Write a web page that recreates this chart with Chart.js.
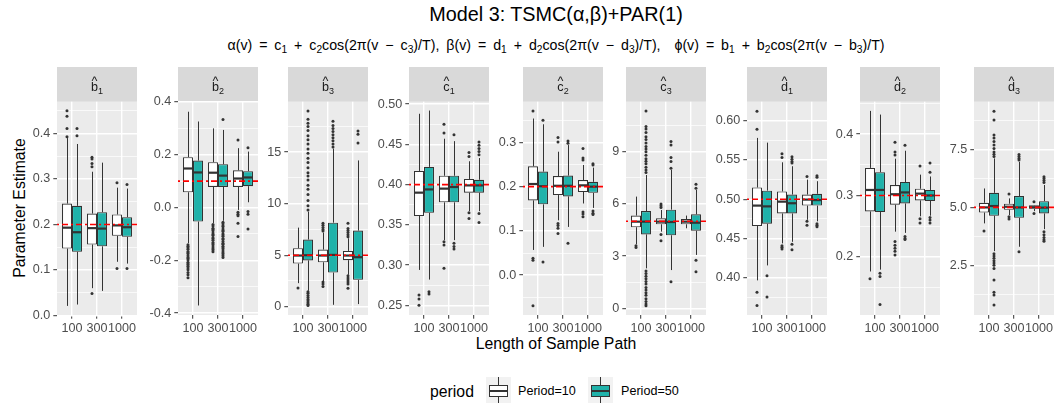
<!DOCTYPE html>
<html lang="en">
<head>
  <meta charset="UTF-8">
  <title>Model 3: TSMC(α,β)+PAR(1)</title>
  <style>
    body {
      margin: 0;
      background: #fff;
      font-family: "Liberation Sans", Arial, sans-serif;
    }
    #page {
      position: relative;
      width: 1058px;
      height: 405px;
      overflow: hidden;
    }
    #page canvas { position: absolute; }
    .txt {
      position: absolute;
      white-space: nowrap;
      line-height: 1;
      color: #000;
    }
    .title { left: 556px; top: 5px; font-size: 19.8px; transform: translateX(-50%); }
    .subtitle { left: 556px; top: 38px; font-size: 14.2px; word-spacing: 3px; transform: translateX(-50%); }
    .subtitle sub { font-size: 72%; vertical-align: -0.3em; line-height: 0; }
    .ytitle { left: 20px; top: 208px; font-size: 15.8px; transform: translate(-50%, -50%) rotate(-90deg); }
    .xtitle { left: 556px; top: 336px; font-size: 15.8px; transform: translateX(-50%); }
    .legtitle { left: 430px; top: 384px; font-size: 15.8px; }
    .leglab { top: 385px; font-size: 12.6px; }
    .key {
      position: absolute;
      top: 377px;
      width: 25px;
      height: 26px;
      background: #F2F2F2;
    }
    .key .wh { position: absolute; left: 12px; width: 1px; background: #333; }
    .key .bx {
      position: absolute;
      left: 3px;
      top: 8px;
      width: 17px;
      height: 10px;
      border: 1px solid #333;
    }
    .key .md { position: absolute; left: 3px; top: 13px; width: 19px; height: 2px; background: #333; }
  </style>
</head>
<body>
<div id="page">
  <div class="txt title">Model 3: TSMC(α,β)+PAR(1)</div>
  <div class="txt subtitle">α(v) = c<sub>1</sub> + c<sub>2</sub>cos(2π(v − c<sub>3</sub>)/T), β(v) = d<sub>1</sub> + d<sub>2</sub>cos(2π(v − d<sub>3</sub>)/T),&nbsp; ϕ(v) = b<sub>1</sub> + b<sub>2</sub>cos(2π(v − b<sub>3</sub>)/T)</div>
  <div class="txt ytitle">Parameter Estimate</div>
  <div class="txt xtitle">Length of Sample Path</div>

  <div class="txt legtitle">period</div>
  <div class="key" style="left:486px">
    <div class="wh" style="top:0;height:8px"></div>
    <div class="bx" style="background:#FFFFFF"></div>
    <div class="md"></div>
    <div class="wh" style="top:20px;height:6px"></div>
  </div>
  <div class="txt leglab" style="left:518px">Period=10</div>
  <div class="key" style="left:588px">
    <div class="wh" style="top:0;height:8px"></div>
    <div class="bx" style="background:#20B2AA"></div>
    <div class="md"></div>
    <div class="wh" style="top:20px;height:6px"></div>
  </div>
  <div class="txt leglab" style="left:621px">Period=50</div>
</div>

<script src="https://cdn.jsdelivr.net/npm/chart.js"></script>
<script>
  const lengths = ['100', '300', '1000'];
  const periods = ['Period=10', 'Period=50'];
  const periodColors = ['#FFFFFF', '#20B2AA'];

  // facet labels: letter + subscript, shown with a hat
  const params = [['b', '1'], ['b', '2'], ['b', '3'], ['c', '1'], ['c', '2'], ['c', '3'], ['d', '1'], ['d', '2'], ['d', '3']];
  const trueValues = [0.2, 0.1, 5, 0.4, 0.2, 5, 0.5, 0.3, 5];

  const yRanges = [
    [0.001, 0.470], [-0.407, 0.401], [-0.8, 19.9], [0.238, 0.503], [-0.090, 0.392],
    [-0.38, 11.87], [0.353, 0.624], [0.105, 0.453], [0.35, 9.57]
  ];
  const yTickValues = [
    [0, 0.1, 0.2, 0.3, 0.4], [-0.4, -0.2, 0, 0.2, 0.4], [0, 5, 10, 15],
    [0.25, 0.30, 0.35, 0.40, 0.45, 0.50], [0, 0.1, 0.2, 0.3], [0, 3, 6, 9],
    [0.40, 0.45, 0.50, 0.55, 0.60], [0.2, 0.3, 0.4], [2.5, 5.0, 7.5]
  ];
  const yTickLabels = [
    ['0.0', '0.1', '0.2', '0.3', '0.4'], ['-0.4', '-0.2', '0.0', '0.2', '0.4'], ['0', '5', '10', '15'],
    ['0.25', '0.30', '0.35', '0.40', '0.45', '0.50'], ['0.0', '0.1', '0.2', '0.3'], ['0', '3', '6', '9'],
    ['0.40', '0.45', '0.50', '0.55', '0.60'], ['0.2', '0.3', '0.4'], ['2.5', '5.0', '7.5']
  ];

  // box stats per length (100, 300, 1000): [lower whisker, Q1, median, Q3, upper whisker]
  const b1Box10 = [[0.021, 0.147, 0.193, 0.246, 0.390], [0.060, 0.156, 0.192, 0.224, 0.316], [0.118, 0.175, 0.198, 0.222, 0.281]];
  const b1Box50 = [[0.024, 0.140, 0.183, 0.241, 0.377], [0.054, 0.152, 0.191, 0.227, 0.336], [0.114, 0.173, 0.194, 0.216, 0.279]];
  const b2Box10 = [[-0.135, 0.058, 0.148, 0.191, 0.363], [-0.059, 0.078, 0.132, 0.172, 0.300], [-0.009, 0.078, 0.110, 0.141, 0.225]];
  const b2Box50 = [[-0.371, -0.053, 0.133, 0.178, 0.326], [-0.050, 0.078, 0.121, 0.164, 0.294], [0.020, 0.081, 0.114, 0.138, 0.212]];
  const b3Box10 = [[2.29, 4.19, 4.97, 5.68, 7.68], [2.45, 4.32, 4.97, 5.55, 7.20], [3.10, 4.52, 4.97, 5.42, 6.65]];
  const b3Box50 = [[1.55, 4.50, 5.00, 6.52, 9.23], [0.19, 3.32, 5.03, 8.16, 15.35], [0.26, 2.61, 4.81, 7.39, 14.2]];
  const c1Box10 = [[0.294, 0.361, 0.390, 0.417, 0.488], [0.331, 0.378, 0.395, 0.411, 0.457], [0.367, 0.390, 0.399, 0.407, 0.429]];
  const c1Box50 = [[0.282, 0.365, 0.394, 0.422, 0.492], [0.331, 0.378, 0.397, 0.411, 0.454], [0.367, 0.390, 0.399, 0.406, 0.433]];
  const c2Box10 = [[0.057, 0.169, 0.206, 0.246, 0.354], [0.124, 0.181, 0.202, 0.224, 0.279], [0.162, 0.188, 0.203, 0.215, 0.249]];
  const c2Box50 = [[0.064, 0.160, 0.201, 0.234, 0.341], [0.109, 0.178, 0.202, 0.225, 0.294], [0.152, 0.186, 0.200, 0.211, 0.243]];
  const c3Box10 = [[3.68, 4.66, 4.98, 5.33, 6.42], [4.41, 4.83, 4.98, 5.17, 5.65], [4.60, 4.83, 4.98, 5.13, 5.33]];
  const c3Box50 = [[2.30, 4.25, 4.98, 5.59, 7.66], [2.20, 4.20, 4.96, 5.67, 7.95], [3.07, 4.46, 4.92, 5.40, 6.80]];
  const d1Box10 = [[0.397, 0.466, 0.492, 0.515, 0.578], [0.444, 0.482, 0.497, 0.510, 0.547], [0.474, 0.492, 0.4996, 0.506, 0.525]];
  const d1Box50 = [[0.416, 0.469, 0.491, 0.511, 0.572], [0.446, 0.482, 0.495, 0.506, 0.542], [0.472, 0.492, 0.499, 0.507, 0.523]];
  const d2Box10 = [[0.176, 0.274, 0.309, 0.345, 0.438], [0.241, 0.285, 0.302, 0.317, 0.360], [0.266, 0.292, 0.303, 0.311, 0.334]];
  const d2Box50 = [[0.179, 0.273, 0.309, 0.338, 0.432], [0.239, 0.287, 0.305, 0.322, 0.373], [0.267, 0.291, 0.300, 0.309, 0.331]];
  const d3Box10 = [[4.31, 4.78, 5.00, 5.20, 5.82], [4.67, 4.90, 5.03, 5.16, 5.39], [4.84, 4.94, 5.01, 5.09, 5.10]];
  const d3Box50 = [[3.11, 4.64, 5.06, 5.63, 7.12], [3.30, 4.55, 5.00, 5.49, 6.97], [4.06, 4.74, 4.99, 5.27, 5.97]];

  // outliers per length (100, 300, 1000)
  const b1Out10 = [[0.450, 0.438, 0.411, 0.393], [0.348, 0.344, 0.334, 0.327, 0.048], [0.292, 0.103]];
  const b1Out50 = [[0.411, 0.395], [], [0.288, 0.103]];
  const b2Out10 = [
    [-0.141, -0.147, -0.152, -0.158, -0.166, -0.171, -0.175, -0.183, -0.189, -0.193, -0.199, -0.207, -0.213, -0.217, -0.222, -0.229, -0.236, -0.246, -0.255, -0.266],
    [-0.064, -0.070, -0.078, -0.083, -0.088, -0.096, -0.102, -0.106, -0.114, -0.118, -0.124, -0.132, -0.137, -0.142, -0.149, -0.156, -0.161, -0.167],
    [0.256, -0.018, -0.025, -0.031, -0.059, -0.110]
  ];
  const b2Out50 = [
    [],
    [0.334, -0.056, -0.061, -0.069, -0.073, -0.081, -0.087, -0.091, -0.099, -0.104, -0.109, -0.117, -0.121, -0.129, -0.135, -0.139, -0.147, -0.152, -0.157, -0.165, -0.171, -0.176, -0.183, -0.189],
    [0.227, -0.015, -0.025, -0.081]
  ];
  const b3Out10 = [[1.81], [8.1, 7.9, 7.7, 7.5, 7.35, 2.4, 2.2, 1.97], [8.1, 7.6, 7.4, 7.2, 7.0, 6.8, 3.0, 2.8, 2.6, 2.4, 2.2, 1.8]];
  const b3Out50 = [
    [9.4, 9.8, 10.3, 10.9, 11.4, 11.8, 12.3, 12.7, 13.0, 13.5, 14.0, 14.4, 14.9, 15.3, 15.8, 16.2, 16.6, 17.1, 17.5, 17.8, 18.2, 19.0,
     1.45, 1.3, 1.1, 0.9, 0.7, 0.55, 0.4, 0.25, 0.13],
    [15.5, 15.8, 16.1, 16.4, 16.7, 17.0, 17.3, 17.6, 18.0],
    [17.06, 16.74, 15.9]
  ];
  const c1Out10 = [[0.263, 0.258, 0.250], [0.475, 0.464, 0.329, 0.325, 0.296], [0.440, 0.435, 0.365, 0.358]];
  const c1Out50 = [[0.267, 0.264], [0.462, 0.327, 0.323, 0.320], [0.453, 0.449, 0.445, 0.441, 0.437, 0.364, 0.353]];
  const c2Out10 = [[0.371, 0.038, 0.034, -0.069], [0.311, 0.301, 0.117, 0.112, 0.106, 0.094], [0.286, 0.265, 0.260, 0.143, 0.138, 0.132]];
  const c2Out50 = [[0.350, 0.030], [0.303, 0.298, 0.072], [0.252, 0.249, 0.145, 0.140, 0.137]];
  const c3Out10 = [[3.60, 3.49], [6.0, 5.9, 5.8, 4.25, 3.89], []];
  const c3Out50 = [
    [7.8, 7.95, 8.1, 8.3, 8.45, 8.6, 8.8, 9.0, 9.15, 9.3, 9.5, 9.7, 9.85, 10.1, 10.3, 10.45, 11.34,
     2.15, 2.0, 1.85, 1.7, 1.55, 1.4, 1.2, 1.05, 0.9, 0.75, 0.55, 0.4, 0.25, 0.15],
    [9.58, 9.39, 8.66, 8.43, 8.05, 1.53],
    [7.13, 6.9, 2.76, 2.11]
  ];
  const d1Out10 = [[0.612, 0.589, 0.382, 0.365], [0.558, 0.553, 0.441, 0.439, 0.437], [0.529, 0.472, 0.467]];
  const d1Out50 = [[0.403, 0.376], [0.554, 0.551, 0.548, 0.546, 0.443, 0.436], [0.530, 0.528, 0.469, 0.467, 0.465]];
  const d2Out10 = [[0.164], [0.387, 0.371, 0.366, 0.225, 0.219, 0.214, 0.209, 0.203], [0.348, 0.262, 0.255]];
  const d2Out50 = [[0.173, 0.168, 0.122], [0.382, 0.233, 0.230, 0.228], [0.353, 0.338, 0.264, 0.260, 0.255]];
  const d3Out10 = [[3.98], [5.58, 4.60, 4.50], [5.24, 4.74]];
  const d3Out50 = [
    [9.16, 8.78, 8.13, 8.0, 7.85, 7.7, 7.55, 7.4, 7.3, 7.2, 3.0, 2.9, 2.8, 2.7, 2.6, 2.5, 2.36, 1.86, 1.33, 1.21, 0.78],
    [7.29, 7.2, 7.12, 7.05, 3.08],
    [6.33, 6.25, 6.16, 6.08, 3.95, 3.82, 3.7, 3.6, 3.54]
  ];

  const boxes = [
    [b1Box10, b1Box50], [b2Box10, b2Box50], [b3Box10, b3Box50], [c1Box10, c1Box50], [c2Box10, c2Box50],
    [c3Box10, c3Box50], [d1Box10, d1Box50], [d2Box10, d2Box50], [d3Box10, d3Box50]
  ];
  const outliers = [
    [b1Out10, b1Out50], [b2Out10, b2Out50], [b3Out10, b3Out50], [c1Out10, c1Out50], [c2Out10, c2Out50],
    [c3Out10, c3Out50], [d1Out10, d1Out50], [d2Out10, d2Out50], [d3Out10, d3Out50]
  ];

  // layout
  const panelLeft = [57, 178, 288, 409, 523, 626, 747, 860, 974];
  const PANEL_W = 81;
  const AXIS_W = 50;
  const TOP = 67;
  const STRIP_H = 34.7;
  const PLOT_BOTTOM = 315;
  const XAXIS_H = 25;
  const FONT = '"Liberation Sans", Arial, sans-serif';
  const INK = '#333333';

  function yTicks(k) {
    const vals = yTickValues[k];
    const step = vals[1] - vals[0];
    const [lo, hi] = yRanges[k];
    const ticks = vals.map((v, i) => ({ value: v, lbl: yTickLabels[k][i] }));
    for (let i = -1; i < vals.length; i++) {
      const m = vals[0] + (i + 0.5) * step;
      if (m >= lo && m <= hi) ticks.push({ value: m, lbl: '', minor: true });
    }
    return ticks.sort((a, b) => a.value - b.value);
  }

  function boxPlugin(k) {
    return {
      id: 'boxplot' + k,
      beforeDraw(chart) {
        const { ctx, chartArea: a } = chart;
        ctx.save();
        ctx.fillStyle = '#EBEBEB';
        ctx.fillRect(a.left, a.top, a.width, a.height);
        ctx.fillStyle = '#D9D9D9';
        ctx.fillRect(a.left, 0, a.width, a.top);
        // facet label: letter with hat and subscript
        const [letter, sub] = params[k];
        ctx.fillStyle = '#1A1A1A';
        ctx.textBaseline = 'alphabetic';
        ctx.font = '12.6px ' + FONT;
        const wL = ctx.measureText(letter).width;
        ctx.font = '9px ' + FONT;
        const wS = ctx.measureText(sub).width;
        const x0 = (a.left + a.right) / 2 - (wL + wS) / 2;
        ctx.font = '12.6px ' + FONT;
        ctx.fillText(letter, x0, 23.7);
        ctx.textAlign = 'center';
        ctx.fillText('^', x0 + wL / 2, 17.5);
        ctx.textAlign = 'left';
        ctx.font = '9px ' + FONT;
        ctx.fillText(sub, x0 + wL, 26.5);
        ctx.restore();
      },
      beforeDatasetsDraw(chart) {
        const { ctx } = chart;
        const y = chart.scales.y;
        ctx.save();
        ctx.strokeStyle = INK;
        ctx.lineWidth = 1;
        chart.data.datasets.forEach((ds, d) => {
          chart.getDatasetMeta(d).data.forEach((bar, i) => {
            const s = ds.stats[i];
            const x = Math.round(bar.x) + 0.5;
            ctx.beginPath();
            ctx.moveTo(x, y.getPixelForValue(s[0]));
            ctx.lineTo(x, y.getPixelForValue(s[1]));
            ctx.moveTo(x, y.getPixelForValue(s[3]));
            ctx.lineTo(x, y.getPixelForValue(s[4]));
            ctx.stroke();
          });
        });
        ctx.restore();
      },
      afterDatasetsDraw(chart) {
        const { ctx, chartArea: a } = chart;
        const y = chart.scales.y;
        ctx.save();
        chart.data.datasets.forEach((ds, d) => {
          chart.getDatasetMeta(d).data.forEach((bar, i) => {
            const s = ds.stats[i];
            const ym = y.getPixelForValue(s[2]);
            ctx.strokeStyle = INK;
            ctx.lineWidth = 2.2;
            ctx.beginPath();
            ctx.moveTo(bar.x - bar.width / 2, ym);
            ctx.lineTo(bar.x + bar.width / 2, ym);
            ctx.stroke();
            ctx.fillStyle = INK;
            ds.outliers[i].forEach(v => {
              ctx.beginPath();
              ctx.arc(bar.x, y.getPixelForValue(v), 1.5, 0, Math.PI * 2);
              ctx.fill();
            });
          });
        });
        // true value reference line
        const yt = y.getPixelForValue(trueValues[k]);
        ctx.strokeStyle = '#FF0000';
        ctx.lineWidth = 1.6;
        ctx.setLineDash([2, 3, 6, 3]);
        ctx.beginPath();
        ctx.moveTo(a.left, yt);
        ctx.lineTo(a.right, yt);
        ctx.stroke();
        ctx.restore();
      }
    };
  }

  const page = document.getElementById('page');

  params.forEach((p, k) => {
    const cv = document.createElement('canvas');
    cv.width = AXIS_W + PANEL_W;
    cv.height = PLOT_BOTTOM - TOP + XAXIS_H;
    cv.style.left = (panelLeft[k] - AXIS_W) + 'px';
    cv.style.top = TOP + 'px';
    page.appendChild(cv);

    const datasets = periods.map((name, d) => ({
      label: name,
      data: boxes[k][d].map((s, i) => ({ x: i + 1, y: [s[1], s[3]] })),
      stats: boxes[k][d],
      outliers: outliers[k][d],
      backgroundColor: periodColors[d],
      borderColor: INK,
      borderWidth: 1.1,
      borderSkipped: false,
      categoryPercentage: 0.8,
      barPercentage: 1
    }));

    const tickFont = { family: FONT, size: 12.6 };

    new Chart(cv, {
      type: 'bar',
      data: { datasets },
      options: {
        responsive: false,
        animation: false,
        events: [],
        layout: { padding: { top: STRIP_H, left: 0, right: 0, bottom: 0 } },
        plugins: {
          legend: { display: false },
          tooltip: { enabled: false }
        },
        scales: {
          x: {
            type: 'linear',
            min: 0.4,
            max: 3.6,
            offset: false,
            afterBuildTicks: s => { s.ticks = lengths.map((l, i) => ({ value: i + 1 })); },
            afterFit: s => { s.height = XAXIS_H; },
            ticks: {
              autoSkip: false,
              maxRotation: 0,
              padding: 2,
              color: '#4D4D4D',
              font: tickFont,
              callback: v => lengths[v - 1]
            },
            grid: { offset: false, color: '#FFFFFF', lineWidth: 1.4, tickColor: INK, tickLength: 3.7, tickWidth: 1 },
            border: { display: false }
          },
          y: {
            min: yRanges[k][0],
            max: yRanges[k][1],
            afterBuildTicks: s => { s.ticks = yTicks(k); },
            afterFit: s => { s.width = AXIS_W; },
            ticks: {
              autoSkip: false,
              padding: 3,
              color: '#4D4D4D',
              font: tickFont,
              callback: (v, i, ticks) => ticks[i].lbl
            },
            grid: {
              color: '#FFFFFF',
              lineWidth: c => (c.tick && c.tick.minor ? 0.7 : 1.4),
              tickColor: c => (c.tick && c.tick.minor ? 'rgba(0,0,0,0)' : INK),
              tickLength: 3.7,
              tickWidth: 1
            },
            border: { display: false }
          }
        }
      },
      plugins: [boxPlugin(k)]
    });
  });
</script>
</body>
</html>
